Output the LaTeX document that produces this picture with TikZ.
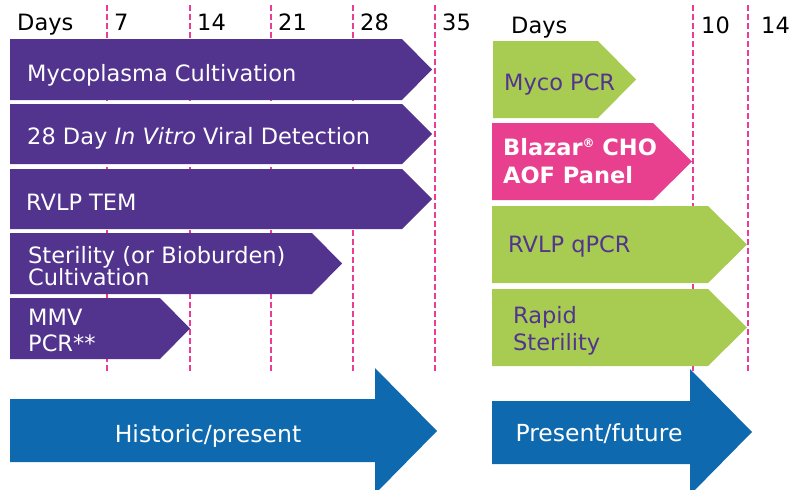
\documentclass[tikz,border=0pt]{standalone}
\usepackage{fontspec}
\setmainfont{DejaVu Sans}
\definecolor{mpurple}{HTML}{52348E}
\definecolor{mgreen}{HTML}{A8CC52}
\definecolor{mpink}{HTML}{E8408F}
\definecolor{mblue}{HTML}{0F69AF}
\definecolor{mline}{HTML}{EB3C96}
\begin{document}
\begin{tikzpicture}[x=1pt,y=-1pt,
  dayline/.style={draw=mline,line width=2.4pt,dash pattern=on 6pt off 3pt},
  daylbl/.style={anchor=base west,inner sep=0pt,font=\fontsize{22.5}{27}\selectfont,text=black},
  barlbl/.style={anchor=base west,inner sep=0pt,font=\fontsize{22.5}{27}\selectfont,text=white},
  greenlbl/.style={barlbl,text=mpurple},
  bluelbl/.style={anchor=base,inner sep=0pt,font=\fontsize{23.5}{28}\selectfont,text=white}]
\useasboundingbox (0,0) rectangle (798,490);
\clip (0,0) rectangle (798,490);
% dashed day lines
\foreach \xx in {107,190,271,353,435,693,748}
  \draw[dayline] (\xx,5) -- (\xx,373);
% day labels
\node[daylbl] (dL) at (17,30.5) {Days};
\node[daylbl] (d7) at (114,30.5) {7};
\node[daylbl] (d14) at (197,30.5) {14};
\node[daylbl] (d21) at (278,30.5) {21};
\node[daylbl] (d28) at (360,30.5) {28};
\node[daylbl] (d35) at (442,30.5) {35};
\node[daylbl] (dR) at (511,33) {Days};
\node[daylbl] (d10) at (701,33) {10};
\node[daylbl] (d14b) at (761,33) {14};
% left purple bars
\fill[mpurple] (10,39) -- (402,39) -- (432,69.5) -- (402,100) -- (10,100) -- cycle;
\fill[mpurple] (10,104) -- (402,104) -- (432,134) -- (402,164) -- (10,164) -- cycle;
\fill[mpurple] (10,169) -- (402,169) -- (432,199) -- (402,229) -- (10,229) -- cycle;
\fill[mpurple] (10,233) -- (312,233) -- (342,263.5) -- (312,294) -- (10,294) -- cycle;
\fill[mpurple] (10,298) -- (160,298) -- (190,328.5) -- (160,359) -- (10,359) -- cycle;
% right bars
\fill[mgreen] (493,41) -- (598,41) -- (636,79.5) -- (598,118) -- (493,118) -- cycle;
\fill[mpink] (492,123) -- (653,123) -- (692,161.5) -- (653,200) -- (492,200) -- cycle;
\fill[mgreen] (492,206) -- (708,206) -- (747,244.5) -- (708,283) -- (492,283) -- cycle;
\fill[mgreen] (492,289) -- (708,289) -- (747,327.5) -- (708,366) -- (492,366) -- cycle;
% blue arrows
\fill[mblue] (10,399) -- (375,399) -- (375,368) -- (437,431) -- (375,494) -- (375,462) -- (10,462) -- cycle;
\fill[mblue] (492,401) -- (690,401) -- (690,369) -- (752,432) -- (690,495) -- (690,464) -- (492,464) -- cycle;
% bar labels
\node[barlbl] (myc) at (27,81) {Mycoplasma Cultivation};
\node[barlbl] (ivv) at (27,144) {28 Day \textit{In Vitro} Viral Detection};
\node[barlbl] (tem) at (26,210) {RVLP TEM};
\node[barlbl] (ster) at (28,263) {\vtop{\baselineskip=22pt\hbox{Sterility (or Bioburden)}\hbox{Cultivation}}};
\node[barlbl] (mmv) at (28,325) {\vtop{\baselineskip=26pt\hbox{MMV}\hbox{PCR**}}};
\node[greenlbl] (mpcr) at (504,90) {Myco PCR};
\node[barlbl] (blz) at (503,155) {\vtop{\baselineskip=28pt\hbox{\bfseries Blazar\raisebox{8pt}{\fontsize{12}{12}\selectfont\textregistered} CHO}\hbox{\bfseries AOF Panel}}};
\node[greenlbl] (qpcr) at (508,252) {RVLP qPCR};
\node[greenlbl] (rst) at (513,323) {\vtop{\baselineskip=27pt\hbox{Rapid}\hbox{Sterility}}};
\node[bluelbl] (hist) at (208,442) {Historic/present};
\node[bluelbl] (pres) at (599,441) {Present/future};
\end{tikzpicture}
\end{document}
